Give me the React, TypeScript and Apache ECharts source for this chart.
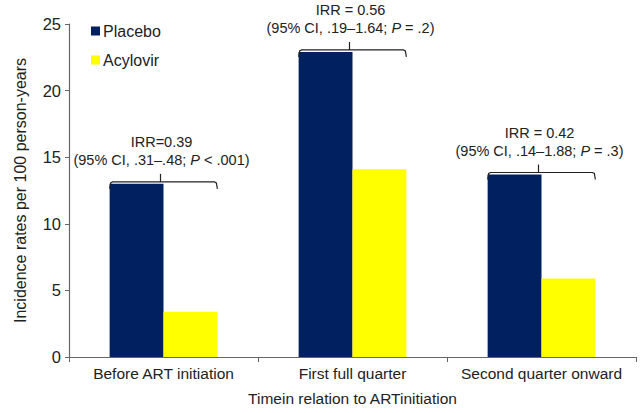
import React, { useEffect, useRef } from "react";
import * as echarts from "echarts";

const categories = ["Before ART initiation", "First full quarter", "Second quarter onward"];
const placebo = [13.0, 22.9, 13.7];
const acylovir = [3.4, 14.1, 5.9];
const yTicks = { min: 0, max: 25, interval: 5 };
const irrLines = ["IRR=0.39", "IRR = 0.56", "IRR = 0.42"];
const ciPrefix = ["(95% CI, .31\u2013.48; ", "(95% CI, .19\u20131.64; ", "(95% CI, .14\u20131.88; "];
const ciSuffix = [" < .001)", " = .2)", " = .3)"];

const FONT = "Liberation Sans, Arial, sans-serif";

export default function App() {
  const ref = useRef<HTMLDivElement>(null);
  useEffect(() => {
    if (!ref.current) return;
    const chart = echarts.init(ref.current, undefined, { renderer: "svg" });
    const ink = "#222";
    chart.setOption({
      animation: false,
      textStyle: { fontFamily: FONT },
      grid: { left: 69, right: 4, top: 24, bottom: 56 },
      legend: {
        orient: "vertical",
        left: 86,
        top: 18,
        itemWidth: 9,
        itemHeight: 9,
        itemGap: 13,
        icon: "rect",
        textStyle: { fontSize: 16, color: ink, fontFamily: FONT, padding: [0, 0, 0, -2] },
        data: ["Placebo", "Acylovir"],
      },
      xAxis: {
        type: "category",
        data: categories,
        name: "Timein relation to ARTinitiation",
        nameLocation: "middle",
        nameGap: 33,
        nameTextStyle: { fontSize: 15.5, color: ink, fontFamily: FONT },
        axisLine: { lineStyle: { color: "#666", width: 1.2 } },
        axisTick: { show: true, length: 5, lineStyle: { color: "#666" } },
        axisLabel: { fontSize: 15.5, color: ink, margin: 8, fontFamily: FONT, interval: 0, hideOverlap: false },
      },
      yAxis: {
        type: "value",
        min: yTicks.min,
        max: yTicks.max,
        interval: yTicks.interval,
        name: "Incidence rates per 100 person-years",
        nameLocation: "middle",
        nameGap: 41,
        nameTextStyle: { fontSize: 16, color: ink, fontFamily: FONT },
        axisLine: { show: true, lineStyle: { color: "#666", width: 1.2 } },
        axisTick: { show: true, length: 4, lineStyle: { color: "#666" } },
        axisLabel: { fontSize: 16.5, color: ink, margin: 8, fontFamily: FONT },
        splitLine: { show: false },
      },
      series: [
        {
          name: "Placebo",
          type: "bar",
          data: placebo,
          barGap: "0%",
          barCategoryGap: "43%",
          itemStyle: { color: "#002060" },
        },
        {
          name: "Acylovir",
          type: "bar",
          data: acylovir,
          itemStyle: { color: "#FFFF00" },
        },
        {
          type: "custom",
          name: "brackets",
          silent: true,
          z: 5,
          data: placebo.map((v, i) => [i, v]),
          renderItem: (params: any, api: any) => {
            const i = params.dataIndex;
            const pt = api.coord([api.value(0), api.value(1)]);
            const band = api.size([1, 0])[0];
            const half = band * 0.285;
            const cx = pt[0];
            const x0 = cx - half;
            const x1 = cx + half;
            const y = pt[1] - 2;
            const st = { stroke: ink, lineWidth: 1.2, fill: null };
            return {
              type: "group",
              children: [
                {
                  type: "polyline",
                  shape: { points: [[x0, y + 7], [x0 + 1, y + 1], [x0 + 3, y], [x1 - 3, y], [x1 - 1, y + 1], [x1, y + 7]] },
                  style: st,
                },
                { type: "line", shape: { x1: cx - 3, y1: y, x2: cx - 3, y2: y - 8 }, style: st },
                {
                  type: "text",
                  x: cx - 2,
                  y: y - 40,
                  style: {
                    text: irrLines[i],
                    fontSize: 14.5,
                    fontFamily: FONT,
                    fill: ink,
                    align: "center",
                    verticalAlign: "middle",
                  },
                },
                {
                  type: "text",
                  x: cx - 2,
                  y: y - 22,
                  style: {
                    text: "{a|" + ciPrefix[i] + "}{b|P}{a|" + ciSuffix[i] + "}",
                    align: "center",
                    verticalAlign: "middle",
                    rich: {
                      a: { fontSize: 14.5, fontFamily: FONT, fill: ink, color: ink },
                      b: { fontSize: 14.5, fontFamily: FONT, fontStyle: "italic", fill: ink, color: ink },
                    },
                  },
                },
              ],
            };
          },
        },
      ],
    });
    return () => chart.dispose();
  }, []);
  return <div ref={ref} style={{ width: 640, height: 413, position: "absolute", left: 0, top: 0, background: "#fff" }} />;
}
